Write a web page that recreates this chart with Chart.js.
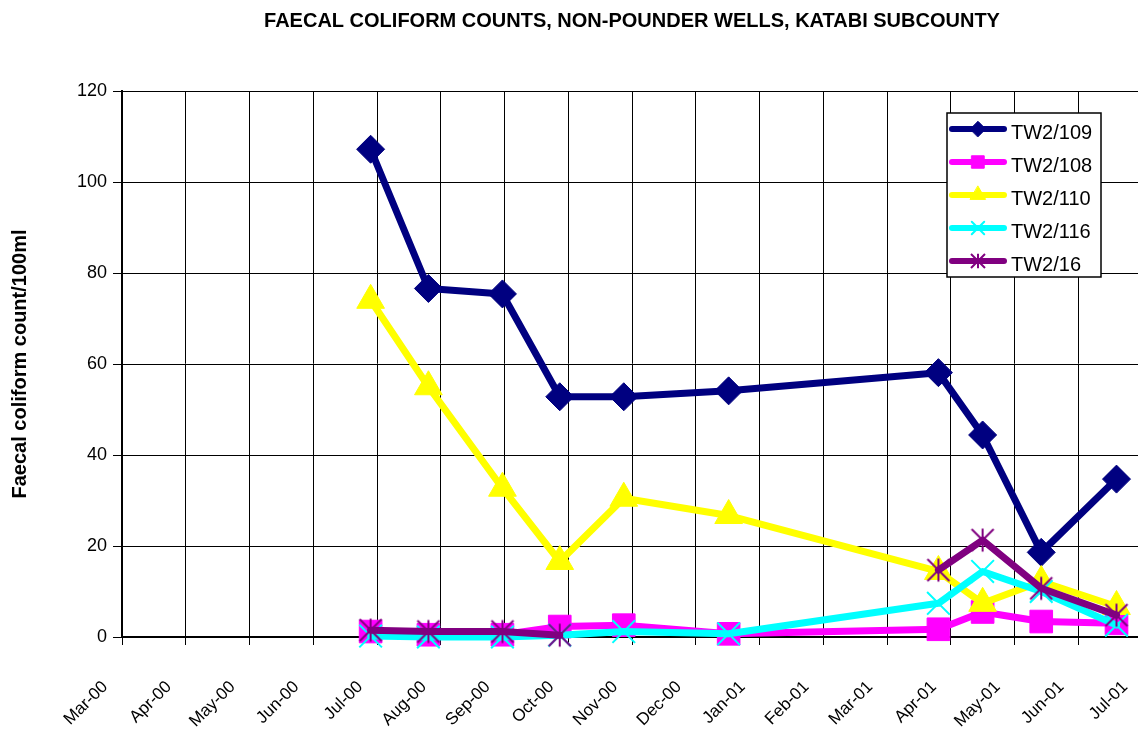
<!DOCTYPE html>
<html>
<head>
<meta charset="utf-8">
<title>Faecal coliform counts</title>
<script src="https://cdn.jsdelivr.net/npm/chart.js@4.4.0/dist/chart.umd.min.js"></script>
<style>
    html, body { margin: 0; padding: 0; background: #fff; overflow: hidden; }
    #wrap { position: relative; width: 1146px; height: 729px; }
</style>
</head>
<body>
<div id="wrap"><canvas id="coliform_chart"></canvas></div>
<script>
var chartTitle = 'FAECAL COLIFORM COUNTS, NON-POUNDER WELLS, KATABI SUBCOUNTY';
var yTitle = 'Faecal coliform count/100ml';

// month tick labels, one per gridline, starting Mar-00
var monthLabels = ['Mar-00', 'Apr-00', 'May-00', 'Jun-00', 'Jul-00', 'Aug-00', 'Sep-00', 'Oct-00',
    'Nov-00', 'Dec-00', 'Jan-01', 'Feb-01', 'Mar-01', 'Apr-01', 'May-01', 'Jun-01', 'Jul-01'];

// sampling dates
var sampleDates = ['2000-06-28', '2000-07-26', '2000-08-31', '2000-09-27', '2000-10-28',
    '2000-12-17', '2001-03-26', '2001-04-16', '2001-05-14', '2001-06-19'];

var tw2_109 = [107.2, 76.6, 75.4, 52.8, 52.8, 54.1, 58.1, 44.4, 18.6, 34.7];
var tw2_108 = [1.2, 0.5, 0.5, 2.3, 2.6, 0.7, 1.7, 5.5, 3.4, 3.0];
var tw2_110 = [74, 55, 32.7, 16.6, 30.5, 26.7, 14.4, 7.4, 12.2, 6.7];
var tw2_116 = [0.2, 0, 0, 0.4, 1.2, 0.7, 7.4, 14.4, 10, 2.6];
var tw2_16 = [1.5, 1.2, 1.2, 0.4, null, null, 14.7, 21.3, 10.7, 4.8];

var fontFamily = '"Liberation Sans", Arial, sans-serif';

// months since 1 Mar 2000, so every month gets the same width like the original axis
function monthIndex(s) {
    var p = s.split('-');
    var y = +p[0], m = +p[1], d = +p[2];
    var days = new Date(y, m, 0).getDate();
    return (y - 2000) * 12 + (m - 3) + (d - 1) / days;
}

function points(values) {
    return sampleDates.map(function(d, i) {
        return { x: monthIndex(d), y: values[i] };
    });
}

// excel style asterisk: an X with a vertical bar, no horizontal bar
function asterisk(half, color, width) {
    var c = document.createElement('canvas');
    var size = Math.ceil(half * 2 + width * 2);
    c.width = size;
    c.height = size;
    var g = c.getContext('2d');
    var m = size / 2;
    g.strokeStyle = color;
    g.lineWidth = width;
    g.beginPath();
    g.moveTo(m - half, m - half); g.lineTo(m + half, m + half);
    g.moveTo(m + half, m - half); g.lineTo(m - half, m + half);
    g.moveTo(m, m - half * 1.05); g.lineTo(m, m + half * 1.05);
    g.stroke();
    return c;
}

function series(label, values, color, style, radius, border, order) {
    return {
        label: label,
        data: points(values),
        borderColor: color,
        backgroundColor: color,
        borderWidth: 7,
        borderJoinStyle: 'round',
        borderCapStyle: 'round',
        pointStyle: style,
        pointRadius: radius,
        pointHoverRadius: radius,
        pointBorderWidth: border,
        pointBackgroundColor: color,
        pointBorderColor: color,
        tension: 0,
        spanGaps: false,
        clip: false,
        order: order
    };
}

var titlePlugin = {
    id: 'topTitle',
    afterDraw: function(chart) {
        var ctx = chart.ctx, area = chart.chartArea;
        ctx.save();
        ctx.font = 'bold 20px ' + fontFamily;
        ctx.fillStyle = '#000';
        ctx.textAlign = 'center';
        ctx.textBaseline = 'middle';
        ctx.fillText(chartTitle, (area.left + area.right) / 2, 21);
        ctx.restore();
    }
};

// boxed legend in the top right of the plot
var legendPlugin = {
    id: 'boxLegend',
    afterDraw: function(chart) {
        var ctx = chart.ctx;
        ctx.save();
        ctx.fillStyle = '#fff';
        ctx.fillRect(947, 113, 154, 164);
        ctx.strokeStyle = '#000';
        ctx.lineWidth = 1.5;
        ctx.strokeRect(947, 113, 154, 164);
        chart.data.datasets.forEach(function(ds, i) {
            var y = 129 + i * 33;
            ctx.strokeStyle = ds.borderColor;
            ctx.lineWidth = 6;
            ctx.lineCap = 'round';
            ctx.beginPath();
            ctx.moveTo(952, y);
            ctx.lineTo(1004, y);
            ctx.stroke();
            ctx.fillStyle = ds.pointBackgroundColor;
            ctx.strokeStyle = ds.pointBorderColor;
            ctx.lineWidth = ds.pointBorderWidth;
            Chart.helpers.drawPoint(ctx, {
                pointStyle: ds.legendStyle || ds.pointStyle,
                radius: ds.pointRadius * 0.55,
                borderWidth: ds.pointBorderWidth,
                rotation: 0
            }, 978, y);
            ctx.fillStyle = '#000';
            ctx.font = '20px ' + fontFamily;
            ctx.textAlign = 'left';
            ctx.textBaseline = 'middle';
            ctx.fillText(ds.label, 1011, y + 4);
        });
        ctx.restore();
    }
};

Chart.defaults.font.family = fontFamily;
Chart.defaults.color = '#000';

var tw2_16Set = series('TW2/16', tw2_16, '#800080', asterisk(11, '#800080', 2), 15, 2, 0);
tw2_16Set.legendStyle = asterisk(7, '#800080', 2);

var coliformChart = new Chart(document.getElementById('coliform_chart'), {
    type: 'line',
    data: {
        datasets: [
            series('TW2/109', tw2_109, '#000080', 'rectRot', 14, 1, 4),
            series('TW2/108', tw2_108, '#FF00FF', 'rect', 16, 1, 3),
            series('TW2/110', tw2_110, '#FFFF00', 'triangle', 16, 1, 2),
            series('TW2/116', tw2_116, '#00FFFF', 'crossRot', 16, 2, 1),
            tw2_16Set
        ]
    },
    options: {
        responsive: true,
        maintainAspectRatio: false,
        animation: false,
        events: [],
        layout: {
            autoPadding: false,
            padding: { top: 91, right: 4, bottom: 0, left: 0 }
        },
        plugins: {
            legend: { display: false },
            title: { display: false },
            tooltip: { enabled: false }
        },
        scales: {
            x: {
                type: 'linear',
                min: 0,
                max: 16,
                afterFit: function(scale) {
                    scale.height = 92;
                    scale.paddingLeft = 0;
                    scale.paddingRight = 0;
                },
                ticks: {
                    stepSize: 1,
                    autoSkip: false,
                    minRotation: 45,
                    maxRotation: 45,
                    labelOffset: -17,
                    padding: 32,
                    color: '#000',
                    font: { size: 17 },
                    callback: function(v) { return monthLabels[v]; }
                },
                grid: { color: '#000', lineWidth: 1, tickLength: 8 },
                border: { color: '#000', width: 2 }
            },
            y: {
                min: 0,
                max: 120,
                afterFit: function(scale) {
                    scale.width = 122;
                    scale.paddingTop = 0;
                    scale.paddingBottom = 0;
                },
                ticks: {
                    stepSize: 20,
                    padding: 6,
                    color: '#000',
                    font: { size: 18 }
                },
                grid: { color: '#000', lineWidth: 1, tickLength: 9 },
                border: { color: '#000', width: 2 },
                title: {
                    display: true,
                    text: yTitle,
                    color: '#000',
                    font: { size: 20, weight: 'bold' },
                    padding: { top: 8, bottom: 0 }
                }
            }
        }
    },
    plugins: [titlePlugin, legendPlugin]
});
</script>
</body>
</html>
